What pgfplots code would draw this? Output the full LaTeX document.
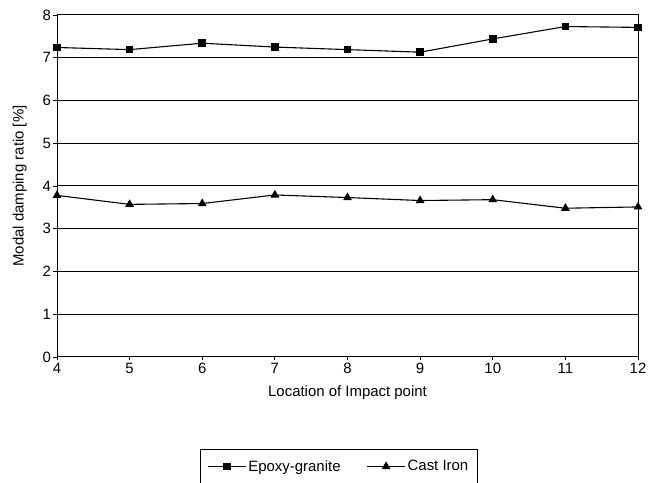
\documentclass[border=0pt]{standalone}
\usepackage{pgfplots}
\pgfplotsset{compat=1.18}
\usepackage{fontspec}
\setmainfont{Liberation Sans}
\begin{document}
\begin{tikzpicture}[x=1bp,y=1bp]
\begin{axis}[
  name=main,
  scale only axis,
  width=581bp, height=342bp,
  xmin=4, xmax=12, ymin=0, ymax=8,
  xtick={4,5,...,12}, ytick={0,1,...,8},
  xtick pos=bottom, ytick pos=left,
  tick align=outside,
  major tick length=3.5bp,
  ymajorgrids,
  grid style={black, line width=1pt},
  axis line style={line width=1pt},
  tick style={black, line width=0.8pt},
  ticklabel style={font=\fontsize{15}{17}\selectfont},
  xticklabel style={yshift=1bp},
  yticklabel style={xshift=1bp},
  /pgf/number format/assume math mode=true,
  xlabel={Location of Impact point},
  ylabel={Modal damping ratio [\%]},
  label style={font=\fontsize{15}{17}\selectfont},
  xlabel style={yshift=-5bp},
  ylabel style={yshift=9bp},
  legend columns=2,
  legend style={at={(0.485,-0.269)}, anchor=north, draw=black, line width=0.8pt,
    font=\fontsize{15}{17}\selectfont, inner xsep=7pt, inner ysep=9pt,
    /tikz/every even column/.append style={column sep=24bp}},
  legend image code/.code={%
    \draw[#1] (0bp,0bp) -- (38bp,0bp);
    \draw[#1, only marks] plot coordinates {(19bp,0bp)};},
  legend cell align=left,
]
\addplot[black, line width=1.1pt, mark=square*, mark size=3.3pt] coordinates {
  (4,7.24) (5,7.19) (6,7.34) (7,7.25) (8,7.19) (9,7.13) (10,7.44) (11,7.73) (12,7.71)};
\addlegendentry{Epoxy-granite}
\addplot[black, line width=1.1pt, mark=triangle*, mark size=4pt] coordinates {
  (4,3.78) (5,3.57) (6,3.59) (7,3.79) (8,3.73) (9,3.66) (10,3.68) (11,3.48) (12,3.51)};
\addlegendentry{Cast Iron}
\end{axis}
\pgfresetboundingbox
\path ([shift={(-57bp,-126bp)}]main.south west) rectangle ([shift={(11bp,15bp)}]main.north east);
\end{tikzpicture}
\end{document}
